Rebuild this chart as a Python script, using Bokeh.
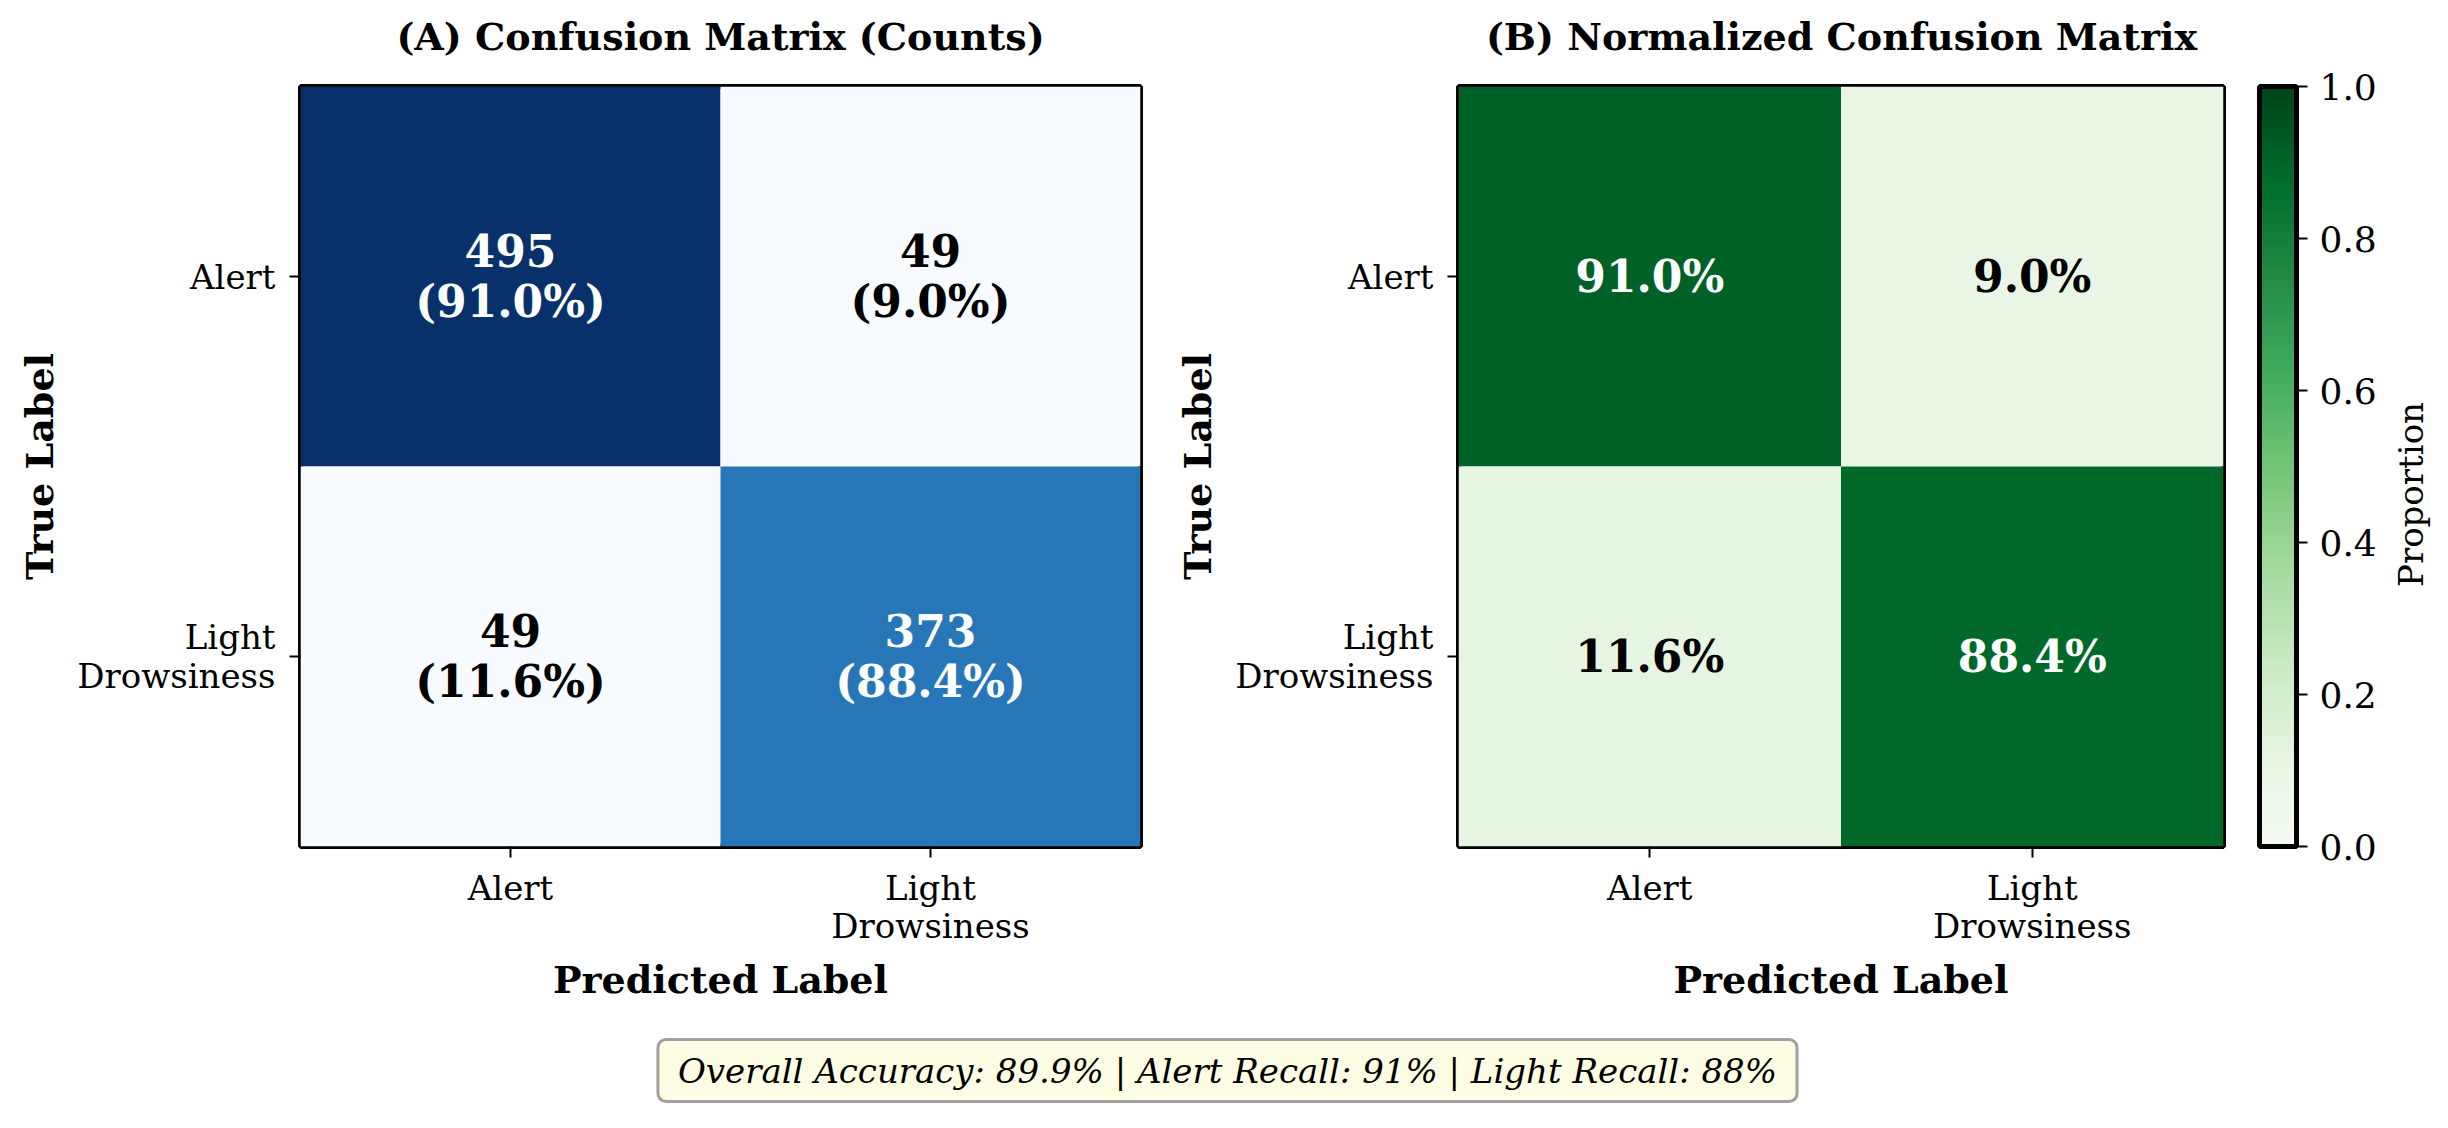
import math
from bokeh.plotting import figure
from bokeh.models import (ColumnDataSource, LinearColorMapper, ColorBar, FixedTicker,
                          Label, PrintfTickFormatter, Range1d)
from bokeh.layouts import row, column
from bokeh.palettes import interp_palette
from bokeh.embed import file_html
from bokeh.resources import INLINE
from bokeh.core.properties import value

# ---------------- data ----------------
class_labels = ["Alert", "Light\nDrowsiness"]
counts = [[495, 49], [49, 373]]
row_pct = [[91.0, 9.0], [11.6, 88.4]]
normalized = [[0.910, 0.090], [0.116, 0.884]]
colorbar_ticks = [0.0, 0.2, 0.4, 0.6, 0.8, 1.0]
summary_text = "Overall Accuracy: 89.9% | Alert Recall: 91% | Light Recall: 88%"
title_a = "(A) Confusion Matrix (Counts)"
title_b = "(B) Normalized Confusion Matrix"
colorbar_title = "Proportion"

FONT = "DejaVu Serif"
blues = interp_palette(['#f7fbff', '#deebf7', '#c6dbef', '#9ecae1', '#6baed6',
                        '#4292c6', '#2171b5', '#08519c', '#08306b'], 256)
greens = interp_palette(['#f7fcf5', '#e5f5e0', '#c7e9c0', '#a1d99b', '#74c476',
                         '#41ab5d', '#238b45', '#006d2c', '#00441b'], 256)

TOP_H = 62
MID_H = 1010 - TOP_H


def blank(width, height):
    f = figure(width=width, height=height, output_backend="svg", toolbar_location=None,
               min_border=0, x_range=Range1d(0, width), y_range=Range1d(0, height))
    f.axis.visible = False
    f.grid.visible = False
    f.outline_line_color = None
    return f


def build_source(mat, labels, thresh):
    xs, ys, vs, ts, cs = [], [], [], [], []
    for i in range(2):
        for j in range(2):
            xs.append(j)
            ys.append(i)
            vs.append(mat[i][j])
            ts.append(labels[i][j])
            cs.append("white" if mat[i][j] > thresh else "black")
    return ColumnDataSource(dict(x=xs, y=ys, v=vs, t=ts, c=cs))


def style(p):
    p.outline_line_color = "black"
    p.outline_line_width = 5
    p.xgrid.visible = False
    p.ygrid.visible = False
    for ax in (p.xaxis[0], p.yaxis[0]):
        ax.ticker = FixedTicker(ticks=[0, 1])
        ax.major_label_overrides = {0: class_labels[0], 1: class_labels[1]}
        ax.axis_line_color = None
        ax.minor_tick_line_color = None
        ax.major_tick_in = 0
        ax.major_tick_out = 11
        ax.major_tick_line_width = 2
        ax.major_tick_line_color = "black"
        ax.major_label_text_font = FONT
        ax.major_label_text_font_size = "34px"
        ax.major_label_text_color = "black"
        ax.major_label_text_line_height = 0.97
        ax.axis_label_text_font = FONT
        ax.axis_label_text_font_style = "bold"
        ax.axis_label_text_font_size = "38px"
        ax.axis_label_text_color = "black"
    p.xaxis[0].axis_label = "Predicted Label"
    p.yaxis[0].axis_label = "True Label"
    p.yaxis[0].major_label_text_align = "right"
    p.xaxis[0].major_label_standoff = 10
    p.yaxis[0].major_label_standoff = 14
    p.xaxis[0].axis_label_standoff = 8
    p.yaxis[0].axis_label_standoff = 12


# ---------------- titles row ----------------
ptop = blank(2440, TOP_H)
for tx, cx in ((title_a, 720), (title_b, 1841)):
    ptop.add_layout(Label(x=cx, y=TOP_H - 36, x_units="screen", y_units="screen", text=tx,
                          text_align="center", text_baseline="middle", text_font=FONT,
                          text_font_style="bold", text_font_size="38px", text_color="black"))

# ---------------- panel A ----------------
lab_a = [[f"{counts[i][j]}\n({row_pct[i][j]:.1f}%)" for j in range(2)] for i in range(2)]
vmax = max(max(r) for r in counts)
vmin = min(min(r) for r in counts)
src_a = build_source(counts, lab_a, vmax / 2)
map_a = LinearColorMapper(palette=blues, low=vmin, high=vmax)

p1 = figure(width=1150, height=MID_H, x_range=Range1d(-0.5, 1.5), y_range=Range1d(1.5, -0.5),
            output_backend="svg", toolbar_location=None,
            min_border_left=300, min_border_right=10, min_border_top=86 - TOP_H,
            min_border_bottom=MID_H - (86 - TOP_H) - 760)
p1.rect(x="x", y="y", width=1, height=1, source=src_a,
        fill_color={"field": "v", "transform": map_a}, line_color=None)
p1.text(x="x", y="y", text="t", text_color="c", source=src_a, text_align="center",
        text_baseline="middle", text_font=value(FONT), text_font_style="bold",
        text_font_size="44px", text_line_height=0.98)
style(p1)

# ---------------- panel B ----------------
lab_b = [[f"{row_pct[i][j]:.1f}%" for j in range(2)] for i in range(2)]
src_b = build_source(normalized, lab_b, 0.5)
map_b = LinearColorMapper(palette=greens, low=0.0, high=1.0)

p2 = figure(width=1242, height=MID_H, x_range=Range1d(-0.5, 1.5), y_range=Range1d(1.5, -0.5),
            output_backend="svg", toolbar_location=None,
            min_border_left=308, min_border_right=169, min_border_top=86 - TOP_H,
            min_border_bottom=MID_H - (86 - TOP_H) - 760)
p2.rect(x="x", y="y", width=1, height=1, source=src_b,
        fill_color={"field": "v", "transform": map_b}, line_color=None)
p2.text(x="x", y="y", text="t", text_color="c", source=src_b, text_align="center",
        text_baseline="middle", text_font=value(FONT), text_font_style="bold",
        text_font_size="44px")
style(p2)

cb = ColorBar(color_mapper=map_b, ticker=FixedTicker(ticks=colorbar_ticks),
              formatter=PrintfTickFormatter(format="%.1f"),
              width=37, height=760, padding=0, margin=0, location=(36, 0),
              bar_line_color="black", bar_line_width=5,
              major_tick_in=0, major_tick_out=11, major_tick_line_color="black",
              major_tick_line_width=2, minor_tick_line_color=None,
              major_label_text_font=FONT, major_label_text_font_size="36px",
              major_label_text_color="black",
              label_standoff=12, background_fill_alpha=0, border_line_color=None)
p2.add_layout(cb, "right")

# colorbar title in its own narrow strip, frame fixed to the strip size
P4_W = 56
p4 = figure(frame_width=P4_W, frame_height=MID_H, output_backend="svg", toolbar_location=None,
            min_border=0, x_range=Range1d(0, P4_W), y_range=Range1d(0, MID_H),
            x_axis_location=None, y_axis_location=None, title=None)
p4.grid.visible = False
p4.outline_line_color = None
p4.text(x=[18], y=[MID_H - (470 - TOP_H)], text=[colorbar_title], angle=math.pi / 2,
        text_align="center", text_baseline="middle", text_font=value(FONT),
        text_font_size="34px", text_color="black")

# ---------------- summary box ----------------
p3 = blank(2440, 118)
p3.add_layout(Label(x=1227, y=58, x_units="screen", y_units="screen", text=summary_text,
                    text_align="center", text_baseline="middle", text_font=FONT,
                    text_font_style="italic", text_font_size="34px", text_color="black",
                    background_fill_color="#fdfde3", border_line_color="#a0a0a0",
                    border_line_width=3, border_radius=8,
                    padding=dict(left=20, right=20, top=11, bottom=11)))

layout = column(ptop, row(p1, p2, p4), p3)
open("out.html", "w").write(file_html(layout, INLINE))
